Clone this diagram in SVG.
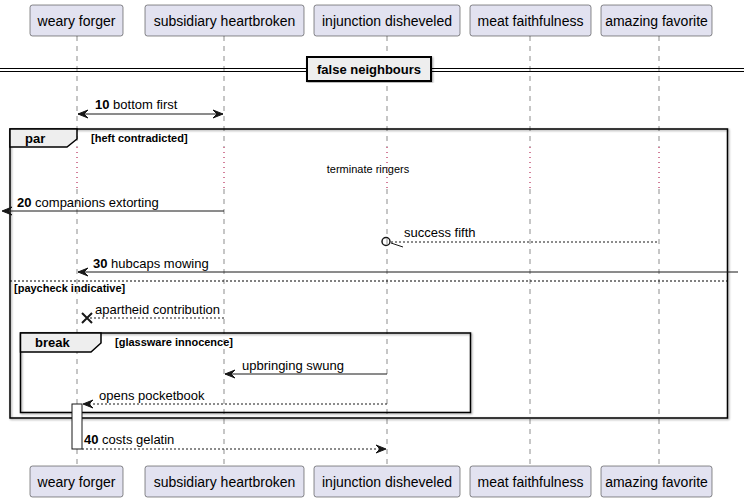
<svg xmlns="http://www.w3.org/2000/svg" width="744" height="502" viewBox="0 0 744 502">
<style>
text{font-family:"Liberation Sans",Arial,sans-serif;fill:#000}
.pbox{fill:#E2E2F0;stroke:#181818;stroke-width:0.5}
.pt{font-size:14px;text-anchor:middle}
.life{stroke:#181818;stroke-width:0.5;stroke-dasharray:5,5;fill:none}
.delay{stroke:#A80036;stroke-width:1;stroke-dasharray:1,4;fill:none}
.msg{stroke:#181818;stroke-width:1;fill:none}
.dash{stroke-dasharray:2,2}
.mt{font-size:13px}
.b{font-weight:bold}
.frame{fill:none;stroke:#000;stroke-width:1.5}
.tab{fill:#EEEEEE;stroke:#000;stroke-width:1.5}
.ct{font-size:11px;font-weight:bold}
.head{fill:#181818;stroke:#181818;stroke-width:1}
</style>
<defs>
<filter id="sh" x="-5%" y="-5%" width="110%" height="110%">
<feGaussianBlur in="SourceAlpha" stdDeviation="1"/>
<feOffset dx="1" dy="1" result="o"/>
<feComponentTransfer><feFuncA type="linear" slope="0.4"/></feComponentTransfer>
<feMerge><feMergeNode/><feMergeNode in="SourceGraphic"/></feMerge>
</filter>
</defs>

<g id="lifelines">
<path class="life" d="M77,36V147M77,189V466M224,36V147M224,189V466M387,36V147M387,189V466M530,36V147M530,189V466M659,36V147M659,189V466"/>
<path class="delay" d="M77,147V189M224,147V189M387,147V189M530,147V189M659,147V189"/>
</g>

<g id="p-weary-forger">
<rect class="pbox" x="30" y="5" width="93" height="31" rx="2.5"/>
<text class="pt" x="76.5" y="25.5">weary forger</text>
<rect class="pbox" x="30" y="466" width="93" height="31" rx="2.5"/>
<text class="pt" x="76.5" y="486.5">weary forger</text>
</g>
<g id="p-subsidiary-heartbroken">
<rect class="pbox" x="145" y="5" width="159" height="31" rx="2.5"/>
<text class="pt" x="224.5" y="25.5">subsidiary heartbroken</text>
<rect class="pbox" x="145" y="466" width="159" height="31" rx="2.5"/>
<text class="pt" x="224.5" y="486.5">subsidiary heartbroken</text>
</g>
<g id="p-injunction-disheveled">
<rect class="pbox" x="314" y="5" width="146" height="31" rx="2.5"/>
<text class="pt" x="387" y="25.5">injunction disheveled</text>
<rect class="pbox" x="314" y="466" width="146" height="31" rx="2.5"/>
<text class="pt" x="387" y="486.5">injunction disheveled</text>
</g>
<g id="p-meat-faithfulness">
<rect class="pbox" x="470" y="5" width="121" height="31" rx="2.5"/>
<text class="pt" x="530.5" y="25.5">meat faithfulness</text>
<rect class="pbox" x="470" y="466" width="121" height="31" rx="2.5"/>
<text class="pt" x="530.5" y="486.5">meat faithfulness</text>
</g>
<g id="p-amazing-favorite">
<rect class="pbox" x="601" y="5" width="111" height="31" rx="2.5"/>
<text class="pt" x="656.5" y="25.5">amazing favorite</text>
<rect class="pbox" x="601" y="466" width="111" height="31" rx="2.5"/>
<text class="pt" x="656.5" y="486.5">amazing favorite</text>
</g>

<g id="divider">
<path d="M0,68.5H744M0,71.5H744" stroke="#000" stroke-width="1" fill="none"/>
<rect x="307" y="57" width="124" height="24" fill="#EEEEEE" stroke="#000" stroke-width="2" filter="url(#sh)"/>
<text class="mt b" x="369" y="74" text-anchor="middle">false neighbours</text>
</g>

<g id="frame-par">
<rect class="frame" x="10" y="129" width="717.5" height="289" filter="url(#sh)"/>
<path class="tab" d="M10,129H77V139L67,147H10Z"/>
<text class="mt b" x="25" y="143">par</text>
<text class="ct" x="91" y="142">[heft contradicted]</text>
<path d="M10,281H727.5" stroke="#000" stroke-width="1" stroke-dasharray="2,2" fill="none"/>
<text class="ct" x="14" y="292">[paycheck indicative]</text>
<text x="368" y="173" font-size="11" text-anchor="middle">terminate ringers</text>
</g>

<g id="frame-break">
<rect class="frame" x="20.5" y="333" width="450" height="79.5" filter="url(#sh)"/>
<path class="tab" d="M20.5,333H101V343L91,352H20.5Z"/>
<text class="mt b" x="35" y="347">break</text>
<text class="ct" x="115" y="346">[glassware innocence]</text>
</g>

<g id="activation">
<rect x="72" y="404" width="10" height="45" fill="#FFFFFF" stroke="#181818" stroke-width="1"/>
</g>

<g id="connectors">
<!-- 10 -->
<path class="msg" d="M78,114H223"/>
<polygon class="head" points="78,114 88,110 84,114 88,118"/>
<polygon class="head" points="223,114 213,110 217,114 213,118"/>
<text class="mt" x="95" y="109"><tspan class="b">10</tspan> bottom first</text>
<!-- 20 -->
<path class="msg" d="M224,211H3"/>
<polygon class="head" points="2,211 12,207 8,211 12,215"/>
<text class="mt" x="17" y="207"><tspan class="b">20</tspan> companions extorting</text>
<!-- success fifth -->
<path class="msg dash" d="M391,242H659"/>
<circle cx="386" cy="241.5" r="4" fill="none" stroke="#181818" stroke-width="1.5"/>
<path class="msg" d="M391,243L403,247"/>
<text class="mt" x="404" y="237">success fifth</text>
<!-- 30 -->
<path class="msg" d="M738,272H78"/>
<polygon class="head" points="78,272 88,268 84,272 88,276"/>
<text class="mt" x="93" y="268"><tspan class="b">30</tspan> hubcaps mowing</text>
<!-- apartheid -->
<path class="msg dash" d="M224,318H88"/>
<path d="M82,313L92,323M82,323L92,313" stroke="#181818" stroke-width="2" fill="none"/>
<text class="mt" x="95" y="314">apartheid contribution</text>
<!-- upbringing -->
<path class="msg" d="M387,374H225"/>
<polygon class="head" points="225,374 235,370 231,374 235,378"/>
<text class="mt" x="242" y="370">upbringing swung</text>
<!-- opens pocketbook -->
<path class="msg dash" d="M387,404H83"/>
<polygon class="head" points="83,404 93,400 89,404 93,408"/>
<text class="mt" x="99" y="400">opens pocketbook</text>
<!-- 40 -->
<path class="msg dash" d="M82,449H386"/>
<polygon class="head" points="386,449 376,445 380,449 376,453"/>
<text class="mt" x="84" y="444"><tspan class="b">40</tspan> costs gelatin</text>
</g>
</svg>
